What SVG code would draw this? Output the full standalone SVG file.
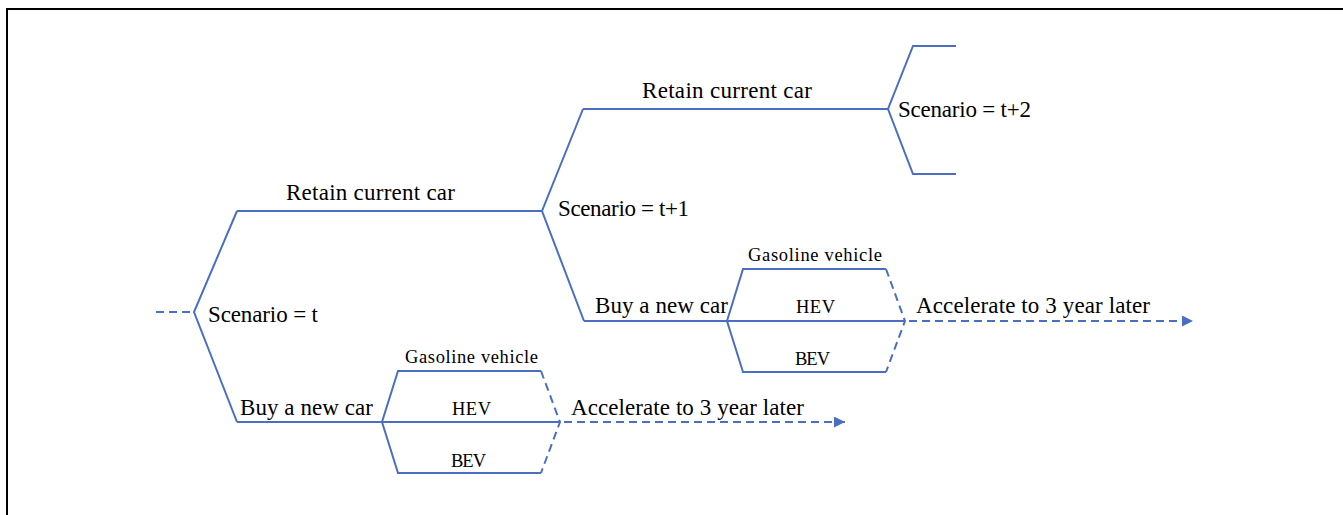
<svg xmlns="http://www.w3.org/2000/svg" width="1343" height="515" viewBox="0 0 1343 515">
  <style>
    .ln { fill: none; stroke: #4A6FC2; stroke-width: 2; stroke-linejoin: miter; }
    .ds { fill: none; stroke: #4A6FC2; stroke-width: 2; stroke-dasharray: 8 5; }
    .lb { font-family: "Liberation Serif", "Times New Roman", serif; font-size: 23px; fill: #000; }
    .sm { font-family: "Liberation Serif", "Times New Roman", serif; font-size: 18.5px; fill: #000; }
  </style>
  <defs>
    <marker id="arr" viewBox="0 0 10 10" refX="10" refY="5" markerWidth="5.5" markerHeight="5.5" orient="auto" markerUnits="strokeWidth">
      <path d="M0,0 L10,5 L0,10 z" fill="#4A6FC2"/>
    </marker>
  </defs>
  <rect width="1343" height="515" fill="#fff"/>
  <path d="M7,516 L7,9 L1344,9" fill="none" stroke="#000" stroke-width="2"/>

  <g id="connectors">
    <line class="ds" x1="156" y1="312" x2="194" y2="312"/>
    <polyline class="ln" points="237,211 194,312 237,422"/>
    <line class="ln" x1="237" y1="211" x2="542" y2="211"/>
    <line class="ln" x1="237" y1="422" x2="382" y2="422"/>
    <polyline class="ln" points="583,109 542,211 584,321"/>
    <line class="ln" x1="583" y1="109" x2="888" y2="109"/>
    <line class="ln" x1="584" y1="321" x2="727" y2="321"/>
    <polyline class="ln" points="956,46 913,46 888,109 913,174 956,174"/>
    <polyline class="ln" points="541,371 398,371 382,422 398,473 541,473"/>
    <line class="ln" x1="382" y1="422" x2="551" y2="422"/>
    <polyline class="ds" points="541,371 560,422 541,473"/>
    <line class="ds" x1="551" y1="422" x2="845" y2="422" marker-end="url(#arr)"/>
    <polyline class="ln" points="886,269 743,269 727,321 743,372 886,372"/>
    <line class="ln" x1="727" y1="321" x2="896" y2="321"/>
    <polyline class="ds" points="886,269 905,321 886,372"/>
    <line class="ds" x1="896" y1="321" x2="1193" y2="321" marker-end="url(#arr)"/>
  </g>

  <g id="node-t"><text class="lb" x="208" y="322" textLength="110">Scenario = t</text></g>
  <g id="node-t1"><text class="lb" x="558" y="216" textLength="131">Scenario = t+1</text></g>
  <g id="node-t2"><text class="lb" x="898" y="117" textLength="133">Scenario = t+2</text></g>
  <g id="label-retain-1"><text class="lb" x="286" y="200" textLength="169">Retain current car</text></g>
  <g id="label-retain-2"><text class="lb" x="642" y="98" textLength="170">Retain current car</text></g>
  <g id="label-buy-1"><text class="lb" x="240" y="415" textLength="133">Buy a new car</text></g>
  <g id="label-buy-2"><text class="lb" x="595" y="313" textLength="133">Buy a new car</text></g>
  <g id="label-accel-1"><text class="lb" x="571" y="415" textLength="233">Accelerate to 3 year later</text></g>
  <g id="label-accel-2"><text class="lb" x="916" y="313" textLength="234">Accelerate to 3 year later</text></g>
  <g id="label-gas-1"><text class="sm" x="405" y="363" textLength="133">Gasoline vehicle</text></g>
  <g id="label-hev-1"><text class="sm" x="452" y="415" textLength="39">HEV</text></g>
  <g id="label-bev-1"><text class="sm" x="451" y="467" textLength="35">BEV</text></g>
  <g id="label-gas-2"><text class="sm" x="748" y="261" textLength="134">Gasoline vehicle</text></g>
  <g id="label-hev-2"><text class="sm" x="796" y="313" textLength="39">HEV</text></g>
  <g id="label-bev-2"><text class="sm" x="795" y="365" textLength="35">BEV</text></g>
</svg>
